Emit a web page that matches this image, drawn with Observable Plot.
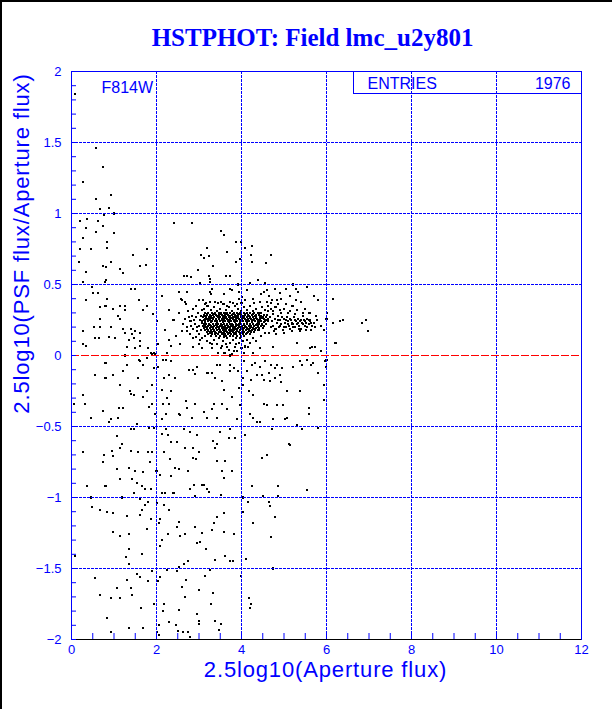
<!DOCTYPE html>
<html><head><meta charset="utf-8">
<script src="https://cdn.jsdelivr.net/npm/d3@7"></script>
<script src="https://cdn.jsdelivr.net/npm/@observablehq/plot@0.6"></script>
<style>
html,body{margin:0;padding:0;background:#fff;}
#chart{position:relative;width:612px;height:709px;overflow:hidden;background:#fff;}
.edge{position:absolute;background:#000;}
</style></head><body>
<div id="chart"></div>
<script>
// ---- text ----
const titleText = "HSTPHOT: Field lmc_u2y801";
const xLabel = "2.5log10(Aperture flux)";
const yLabel = "2.5log10(PSF flux/Aperture flux)";
const filterLabel = "F814W";
const entriesLabel = "ENTRIES";
const entriesCount = 1976;

// ---- ticks ----
const xMajorTicks = [0, 2, 4, 6, 8, 10, 12];
const xMinorTicks = d3.range(0, 25).map(i => i * 0.5);
const yMajorTicks = [-2, -1.5, -1, -0.5, 0, 0.5, 1, 1.5, 2];
const yGridLines = [-1.5, -1, -0.5, 0.5, 1, 1.5];
const yMinorTicks = d3.range(-20, 21).map(i => i / 10);
const referenceLine = [0];

// ---- data (x = 2.5log10(Aperture flux), y = 2.5log10(PSF/Aperture)) ----
const upperLeftPts = [[0.09,1.84],[0.58,1.46],[0.74,1.33],[0.27,1.22],[0.58,1.10],[0.93,1.13],[0.68,1.03],[0.88,1.04],[0.99,1.00],[0.76,0.99],[0.19,0.95],[0.37,0.96],[0.35,0.90],[0.63,0.95],[0.74,0.91],[0.27,0.83],[0.57,0.87],[0.99,0.86],[0.84,0.80],[0.84,0.76],[0.19,0.75],[0.45,0.75],[1.45,0.71],[1.78,0.75],[0.18,0.66],[0.74,0.63],[0.94,0.66],[0.81,0.62],[0.35,0.59],[1.15,0.61],[1.21,0.58],[1.62,0.63],[1.75,0.64],[0.82,0.53],[0.79,0.52],[0.27,0.52],[0.49,0.48],[0.51,0.44],[0.63,0.44],[0.35,0.39],[0.84,0.40],[0.68,0.34],[0.80,0.35],[0.98,0.33],[1.15,0.35],[1.25,0.35],[1.25,0.32],[1.40,0.47],[1.50,0.47],[1.58,0.39],[1.68,0.32],[1.77,0.35],[1.91,0.29],[0.68,0.26],[1.09,0.28],[1.13,0.26],[0.94,0.20],[0.52,0.20],[0.68,0.20],[0.27,0.17],[0.56,0.12],[0.64,0.12],[0.88,0.13],[1.02,0.12],[1.21,0.19],[1.25,0.16],[1.39,0.19],[1.35,0.11],[1.46,0.12],[1.50,0.17],[1.42,0.15],[1.61,0.16],[1.62,0.10],[1.31,0.06],[1.50,0.05],[1.79,0.05],[1.88,0.02],[1.95,0.02],[0.27,0.08],[0.35,0.07],[2.01,0.24],[2.03,0.08],[2.29,0.11],[1.27,0.00],[2.20,0.18],[2.35,0.07],[2.40,0.25],[2.45,0.14],[2.52,0.30],[2.55,0.08],[2.60,0.17],[2.30,0.32],[2.12,0.42],[2.25,0.02]];

const upperScatterPts = [[2.42,0.93],[2.83,0.93],[3.52,0.88],[3.58,0.85],[3.98,0.80],[3.87,0.80],[4.09,0.76],[4.24,0.77],[3.19,0.76],[3.05,0.71],[3.23,0.70],[3.12,0.69],[3.66,0.73],[3.97,0.68],[3.87,0.66],[4.23,0.71],[4.24,0.66],[4.58,0.65],[4.70,0.71],[3.33,0.63],[2.97,0.60],[2.65,0.56],[2.72,0.56],[2.81,0.55],[3.24,0.56],[3.25,0.54],[3.64,0.56],[3.73,0.56],[4.19,0.51],[4.38,0.53],[4.56,0.51],[3.03,0.51],[3.26,0.52],[3.91,0.50],[5.22,0.50],[3.30,0.47],[3.26,0.45],[2.52,0.45],[2.72,0.45],[3.29,0.43],[3.72,0.47],[3.77,0.46],[3.95,0.45],[4.14,0.46],[4.52,0.45],[4.59,0.46],[4.79,0.47],[5.05,0.47],[5.28,0.47],[5.55,0.48],[3.93,0.40],[4.09,0.39],[4.01,0.41],[4.28,0.40],[4.44,0.38],[4.72,0.39],[4.83,0.39],[4.93,0.40],[5.14,0.42],[5.32,0.45],[5.28,0.39],[5.71,0.42],[5.81,0.39],[2.58,0.40],[2.60,0.39],[2.68,0.38],[2.70,0.36],[2.87,0.33],[3.01,0.39],[3.09,0.39],[3.13,0.36],[3.26,0.38],[3.38,0.38],[3.52,0.38],[3.58,0.36],[3.66,0.35],[3.81,0.37],[3.89,0.36],[3.58,0.43],[4.65,0.42],[4.90,0.44],[5.05,0.36],[5.20,0.35],[5.40,0.38],[5.50,0.33],[5.60,0.30],[5.75,0.28],[4.45,0.43],[4.70,0.37]];

// dense core of the stellar sequence: [y, x values]
const clusterCoreRows = [
  [0.300, [3.15,3.22,3.31,3.38,3.47,3.52,3.60,3.66,3.74,3.83,3.90,3.97,4.05,4.12,4.21,4.30,4.38,4.47]],
  [0.2925,[3.19,3.35,3.49,3.63,3.79,3.94,4.09,4.26,4.42]],
  [0.285, [3.12,3.18,3.25,3.33,3.41,3.46,3.55,3.62,3.68,3.77,3.85,3.92,3.99,4.08,4.15,4.24,4.33,4.41,4.52,4.60]],
  [0.2775,[3.14,3.28,3.43,3.58,3.73,3.88,4.03,4.18,4.31,4.47]],
  [0.270, [3.10,3.16,3.23,3.29,3.36,3.44,3.50,3.57,3.63,3.71,3.79,3.84,3.91,4.00,4.06,4.13,4.19,4.27,4.35,4.43,4.50,4.58]],
  [0.2625,[3.17,3.31,3.46,3.61,3.76,3.90,4.05,4.20,4.33,4.49]],
  [0.255, [3.13,3.20,3.27,3.34,3.40,3.48,3.53,3.59,3.66,3.73,3.80,3.87,3.94,4.02,4.09,4.16,4.22,4.29,4.37,4.44,4.53,4.62]],
  [0.2475,[3.11,3.25,3.41,3.54,3.70,3.84,3.99,4.14,4.28,4.42,4.58]],
  [0.240, [3.08,3.14,3.21,3.30,3.37,3.43,3.49,3.56,3.62,3.69,3.75,3.82,3.89,3.96,4.03,4.10,4.18,4.25,4.31,4.39,4.46,4.55,4.63]],
  [0.2325,[3.13,3.28,3.42,3.57,3.70,3.84,3.97,4.12,4.25,4.40,4.53]],
  [0.225, [3.11,3.17,3.24,3.32,3.39,3.45,3.51,3.58,3.65,3.72,3.78,3.86,3.93,3.99,4.07,4.14,4.20,4.28,4.36,4.42,4.49,4.57]],
  [0.2175,[3.12,3.26,3.39,3.53,3.66,3.80,3.91,4.05,4.19,4.34,4.48]],
  [0.210, [3.09,3.15,3.22,3.28,3.35,3.42,3.50,3.55,3.61,3.68,3.76,3.81,3.88,3.95,4.01,4.08,4.17,4.23,4.30,4.38,4.45,4.54]],
  [0.2025,[3.16,3.31,3.45,3.57,3.71,3.83,3.97,4.10,4.23,4.38]],
  [0.195, [3.12,3.19,3.26,3.33,3.40,3.47,3.54,3.60,3.67,3.74,3.79,3.85,3.92,4.00,4.05,4.12,4.19,4.26,4.34,4.41,4.50]],
  [0.1875,[3.18,3.32,3.47,3.60,3.73,3.87,4.01,4.15,4.29]],
  [0.180, [3.14,3.21,3.29,3.36,3.43,3.50,3.57,3.63,3.70,3.77,3.83,3.90,3.97,4.04,4.11,4.18,4.24,4.32,4.40]],
  [0.1725,[3.21,3.35,3.49,3.62,3.76,3.90,4.04,4.19]],
  [0.165, [3.18,3.25,3.31,3.38,3.46,3.52,3.59,3.66,3.73,3.80,3.86,3.94,4.01,4.07,4.15,4.22,4.29]],
  [0.1575,[3.26,3.41,3.56,3.71,3.85,3.99,4.13]],
  [0.150, [3.22,3.30,3.37,3.44,3.53,3.60,3.68,3.75,3.82,3.88,3.96,4.03,4.10,4.20]],
  [0.135, [3.28,3.40,3.49,3.58,3.64,3.72,3.80,3.90,3.98,4.06]]
];

const clusterBandPts = [[4.66,0.27],[4.71,0.24],[4.74,0.21],[4.78,0.26],[4.80,0.19],[4.83,0.23],[4.86,0.28],[4.88,0.20],[4.91,0.25],[4.94,0.22],[4.97,0.18],[4.99,0.26],[5.02,0.23],[5.05,0.20],[5.07,0.27],[5.10,0.24],[5.12,0.21],[5.15,0.19],[5.17,0.25],[5.20,0.22],[5.23,0.27],[5.25,0.20],[5.28,0.24],[5.30,0.22],[5.33,0.26],[5.36,0.21],[5.38,0.24],[5.41,0.19],[5.43,0.23],[5.46,0.25],[5.49,0.21],[5.52,0.23],[5.55,0.26],[5.58,0.22],[5.62,0.24],[5.66,0.21],[5.70,0.23],[4.69,0.20],[4.73,0.29],[4.77,0.17],[4.85,0.25],[4.90,0.21],[4.95,0.27],[5.00,0.20],[5.04,0.25],[5.09,0.22],[5.14,0.26],[5.19,0.23],[5.22,0.20],[5.27,0.25],[5.32,0.23],[5.35,0.19],[5.40,0.25],[5.45,0.22],[5.50,0.24],[5.54,0.20],[5.60,0.25],[5.64,0.23],[4.62,0.31],[4.75,0.31],[4.93,0.30],[5.10,0.30],[5.27,0.29],[5.44,0.28],[4.64,0.16],[4.82,0.15],[5.00,0.16],[5.18,0.17],[5.37,0.17],[5.52,0.18],[5.73,0.20],[5.78,0.25]];

const clusterLeftPts = [[2.68,0.26],[2.72,0.20],[2.75,0.31],[2.78,0.15],[2.80,0.24],[2.83,0.28],[2.85,0.19],[2.87,0.33],[2.90,0.22],[2.92,0.13],[2.94,0.27],[2.96,0.17],[2.98,0.30],[3.00,0.21],[3.02,0.25],[3.03,0.11],[3.05,0.18],[3.06,0.32],[3.07,0.23],[3.04,0.28],[2.99,0.15],[2.88,0.25],[2.82,0.21],[2.76,0.27],[2.71,0.17],[2.63,0.22],[2.93,0.35],[3.01,0.08],[2.95,0.20],[2.86,0.12]];

const clusterTailPts = [[3.35,0.11],[3.42,0.08],[3.48,0.12],[3.52,0.05],[3.56,0.10],[3.60,0.02],[3.63,0.08],[3.67,0.12],[3.70,0.04],[3.74,0.09],[3.78,0.01],[3.80,0.11],[3.84,0.06],[3.87,0.12],[3.90,0.03],[3.93,0.09],[3.96,0.12],[4.00,0.05],[4.03,0.10],[4.08,0.07],[4.12,0.11],[3.45,0.02],[3.58,0.13],[3.72,0.00],[3.88,0.08],[4.06,0.02],[3.55,0.07],[3.82,0.03],[3.66,0.06],[4.15,0.06],[3.25,0.09],[3.30,0.05],[3.18,0.10],[4.20,0.09],[4.27,0.12],[4.35,0.10]];

const clusterFringePts = [[3.12,0.33],[3.20,0.35],[3.28,0.32],[3.35,0.34],[3.42,0.31],[3.50,0.33],[3.57,0.36],[3.63,0.32],[3.70,0.34],[3.77,0.31],[3.84,0.35],[3.92,0.33],[3.99,0.31],[4.05,0.34],[4.13,0.32],[4.20,0.35],[4.27,0.31],[4.34,0.33],[4.41,0.30],[4.48,0.34],[4.55,0.32],[4.63,0.35],[4.70,0.33],[4.80,0.34],[4.90,0.32],[3.16,0.37],[3.45,0.37],[3.73,0.38],[4.00,0.37],[4.30,0.37],[4.60,0.38],[4.85,0.36],[5.00,0.33],[5.15,0.31],[5.30,0.32],[5.45,0.30],[3.08,0.12],[3.15,0.14],[4.45,0.14],[4.55,0.16]];

const rightPts = [[6.00,0.26],[6.16,0.23],[6.32,0.24],[6.38,0.25],[6.22,0.09],[5.87,0.21],[5.93,0.18],[5.64,0.18],[5.73,0.06],[5.86,0.03],[5.61,0.05],[6.15,0.40],[6.83,0.23],[6.93,0.25],[6.97,0.17],[6.01,0.30]];

const nearZeroPts = [[1.31,0.06],[1.62,0.07],[1.90,0.01],[1.96,0.01],[2.87,0.06],[3.07,0.05],[3.30,0.08],[3.62,0.02],[4.09,0.06],[4.28,0.02],[4.44,0.05],[4.75,0.06],[5.30,0.09],[5.65,0.06],[5.73,0.06],[6.20,0.09]];

const lowerPts = [[0.80,-0.05],[0.56,-0.14],[0.98,-0.14],[0.80,-0.16],[1.21,-0.11],[1.31,-0.07],[1.61,-0.04],[1.68,-0.07],[1.56,-0.16],[1.14,-0.21],[1.37,-0.25],[1.48,-0.28],[0.27,-0.28],[0.31,-0.34],[0.74,-0.39],[1.11,-0.37],[1.21,-0.37],[0.92,-0.45],[0.88,-0.47],[1.09,-0.44],[0.45,-0.44],[1.54,-0.48],[1.78,-0.25],[1.90,-0.21],[1.95,-0.09],[1.90,-0.34],[1.96,-0.41],[1.82,-0.36],[1.68,-0.29],[1.39,-0.27],[0.05,-0.34],[1.58,-0.03],[1.78,-0.02],[2.15,-0.03],
[2.04,-0.08],[2.23,-0.03],[2.33,-0.04],[2.29,-0.14],[2.17,-0.16],[2.44,-0.16],[2.13,-0.24],[2.33,-0.25],[2.25,-0.30],[2.15,-0.34],[2.29,-0.34],[2.52,-0.41],[2.56,-0.42],[2.23,-0.41],[2.13,-0.45],[2.76,-0.10],[2.86,-0.10],[2.91,-0.13],[2.95,-0.08],[2.72,-0.37],[2.83,-0.44],[2.91,-0.34],[2.70,-0.32],[3.11,-0.40],[3.19,-0.44],[3.20,-0.12],[3.30,-0.12],[3.38,-0.16],[3.42,-0.07],[3.50,-0.07],[3.54,-0.18],[3.58,-0.24],[3.36,-0.34],[3.30,-0.38],[3.42,-0.44],[3.54,-0.34],[3.66,-0.38],[3.72,-0.07],[3.74,-0.11],[3.77,-0.29],[3.83,-0.09],[3.89,-0.45],[3.92,-0.11],[3.95,-0.23],[3.97,-0.35],
[4.05,-0.04],[4.03,-0.16],[4.03,-0.21],[4.13,-0.11],[4.17,-0.25],[4.24,-0.07],[4.22,-0.17],[4.28,-0.28],[4.32,-0.05],[4.36,-0.14],[4.44,-0.08],[4.48,-0.14],[4.52,-0.17],[4.53,-0.34],[4.56,-0.04],[4.64,-0.12],[4.66,-0.18],[4.70,-0.07],[4.79,-0.09],[4.79,-0.16],[4.83,-0.07],[4.83,-0.35],[4.91,-0.14],[4.93,-0.19],[4.95,-0.09],[4.97,-0.35],[5.07,-0.25],[5.03,-0.45],[4.36,-0.47],[4.44,-0.47],[4.28,-0.44],[4.20,-0.41],[4.60,-0.35],[5.22,-0.08],[5.38,-0.04],[5.38,-0.25],[5.42,-0.07],[5.54,-0.03],[5.58,-0.37],[5.58,-0.41],[5.63,-0.07],[5.69,-0.05],[5.81,-0.12],[5.93,-0.21],[5.93,-0.31],[5.97,-0.04],[6.00,-0.03],[5.07,-0.44],[5.30,-0.49],[4.75,-0.45],[5.99,-0.08],
[0.27,-0.68],[0.76,-0.70],[0.96,-0.67],[0.98,-0.71],[0.74,-0.75],[1.07,-0.57],[1.19,-0.62],[1.15,-0.65],[1.39,-0.52],[1.48,-0.52],[1.40,-0.67],[1.56,-0.68],[1.80,-0.68],[1.07,-0.80],[1.35,-0.79],[1.50,-0.81],[1.68,-0.82],[1.84,-0.75],[1.90,-0.68],[1.15,-0.87],[1.43,-0.87],[1.53,-0.90],[1.66,-0.92],[1.74,-0.94],[1.86,-0.94],[0.37,-0.92],[0.80,-0.92],[0.45,-1.00],[1.19,-1.00],[1.46,-0.97],[1.62,-1.01],[1.82,-0.51],[1.93,-0.51],[2.00,-0.81],
[2.23,-0.52],[2.13,-0.55],[2.26,-0.56],[2.33,-0.61],[2.48,-0.61],[2.17,-0.68],[2.31,-0.73],[2.44,-0.79],[2.52,-0.80],[2.33,-0.85],[2.09,-0.84],[2.13,-0.97],[2.21,-0.97],[2.40,-0.97],[2.65,-0.52],[2.79,-0.54],[2.66,-0.65],[2.87,-0.65],[2.86,-0.72],[2.94,-0.73],[2.95,-0.56],[3.01,-0.68],[2.74,-0.81],[2.78,-0.94],[2.91,-0.99],[3.07,-0.91],[3.12,-0.91],[3.19,-0.94],[3.37,-0.65],[3.42,-0.62],[3.42,-0.74],[3.62,-0.74],[3.54,-0.81],[3.58,-0.86],[3.50,-0.54],[3.33,-0.60],[3.70,-0.58],[3.74,-0.52],[3.85,-0.58],[3.77,-0.81],[3.23,-0.96],[3.52,-0.98],[2.89,-0.91],
[4.09,-0.56],[4.48,-0.72],[4.60,-0.70],[4.24,-0.92],[4.87,-0.92],[5.54,-0.95],[5.11,-0.62],[5.15,-0.63],[4.72,-0.52],[5.42,-0.52],[5.81,-0.51],[4.50,-0.99],[4.87,-0.99],[4.03,-1.00],
[0.49,-1.07],[0.68,-1.09],[0.84,-1.10],[0.98,-1.11],[1.31,-1.13],[1.61,-1.12],[1.66,-1.09],[1.74,-1.05],[1.80,-1.03],[1.87,-1.15],[1.78,-1.22],[0.98,-1.24],[1.15,-1.27],[1.35,-1.26],[1.35,-1.36],[1.28,-1.42],[0.09,-1.41],[1.66,-1.40],[1.35,-1.47],
[2.01,-1.04],[2.17,-1.05],[2.29,-1.09],[2.08,-1.15],[2.05,-1.18],[2.48,-1.21],[2.54,-1.17],[2.66,-1.26],[2.56,-1.27],[2.27,-1.26],[2.13,-1.30],[2.08,-1.34],[2.90,-1.21],[3.07,-1.25],[3.03,-1.31],[2.95,-1.32],[3.16,-1.36],[3.30,-1.23],[3.36,-1.18],[3.42,-1.14],[3.58,-1.11],[3.59,-1.24],[3.83,-1.26],[3.62,-1.41],[3.38,-1.44],[3.74,-1.45],[3.81,-1.45],[2.74,-1.45],[2.64,-1.47],[2.52,-1.49],[3.25,-1.51],
[4.03,-1.10],[4.15,-1.03],[4.27,-1.18],[4.64,-1.03],[4.66,-1.06],[4.79,-1.14],[4.69,-1.28],[4.11,-1.43],[4.75,-1.50],
[0.56,-1.57],[1.31,-1.58],[1.39,-1.64],[1.07,-1.64],[1.53,-1.54],[1.62,-1.56],[1.80,-1.59],[1.90,-1.52],[0.68,-1.69],[0.93,-1.71],[1.15,-1.71],[1.43,-1.69],
[2.03,-1.59],[2.09,-1.56],[2.25,-1.51],[2.48,-1.52],[2.60,-1.63],[2.70,-1.58],[2.66,-1.70],[2.17,-1.75],[2.99,-1.65],[3.33,-1.67],[3.15,-1.55],[3.99,-1.55],[4.18,-1.71],[4.22,-1.75],
[0.84,-1.85],[0.93,-1.95],[1.35,-1.92],[1.64,-1.78],[1.68,-1.92],[1.95,-1.75],[2.02,-1.95],[2.05,-1.97],[2.07,-1.90],[2.18,-1.75],[2.15,-1.80],[2.30,-1.88],[2.46,-1.90],[2.51,-1.94],[2.52,-1.79],[2.62,-1.95],[2.75,-1.95],[2.78,-1.98],[2.96,-1.82],[3.00,-1.87],[3.01,-1.89],[3.29,-1.75],[3.38,-1.87],[3.52,-1.89],[3.47,-1.93],[4.20,-1.78]];

// ---- build table ----
const toObj = ([x, y]) => ({x, y});
const points = [
  ...upperLeftPts, ...upperScatterPts, ...clusterBandPts, ...clusterLeftPts,
  ...clusterTailPts, ...clusterFringePts, ...rightPts, ...nearZeroPts, ...lowerPts,
  ...clusterCoreRows.flatMap(([y, xs]) => xs.map(x => [x, y]))
].map(toObj);

// ---- layout / style ----
const blue = "#0000ff";
const statsBox = {x1: 6.65, x2: 12, y1: 1.845, y2: 2};
const tickFmt = d3.format("~g");

const chart = Plot.plot({
  width: 612, height: 709,
  marginLeft: 71, marginRight: 31, marginTop: 71, marginBottom: 70,
  x: {domain: [0, 12], label: null},
  y: {domain: [-2, 2], label: null},
  style: {background: "white", fontFamily: "'Liberation Sans', Arial, sans-serif", overflow: "visible"},
  marks: [
    Plot.dot(points, {x: "x", y: "y", symbol: "square", r: 1.13, fill: "black", stroke: null, shapeRendering: "crispEdges"}),
    Plot.rect([statsBox], {x1: "x1", x2: "x2", y1: "y1", y2: "y2", fill: "white", stroke: blue, shapeRendering: "crispEdges"}),
    Plot.text([filterLabel], {frameAnchor: "top-left", dx: 30, dy: 16.5, textAnchor: "start", lineAnchor: "middle", fontSize: 16, fill: blue}),
    Plot.text([entriesLabel], {frameAnchor: "top-left", dx: 296, dy: 12, textAnchor: "start", lineAnchor: "middle", fontSize: 16, fill: blue}),
    Plot.text([String(entriesCount)], {frameAnchor: "top-right", dx: -11, dy: 12, textAnchor: "end", lineAnchor: "middle", fontSize: 16, fill: blue}),
    Plot.gridX(xMajorTicks, {stroke: blue, strokeOpacity: 1, strokeDasharray: "3,1"}),
    Plot.gridY(yGridLines, {stroke: blue, strokeOpacity: 1, strokeDasharray: "3,1"}),
    Plot.ruleY(referenceLine, {stroke: "#ff0000", strokeDasharray: "8,2"}),
    Plot.frame({stroke: blue, shapeRendering: "crispEdges"}),
    Plot.ruleY([-2], {stroke: "black"}),
    Plot.axisX(xMinorTicks, {tickSize: -6, stroke: blue, fill: "none", label: null}),
    Plot.axisX(xMajorTicks, {tickSize: 0, tickPadding: 5, fill: blue, fontSize: 13, label: null, tickFormat: tickFmt}),
    Plot.axisY(yMinorTicks, {tickSize: -5, stroke: blue, fill: "none", label: null}),
    Plot.axisY(yMajorTicks, {tickSize: 0, tickPadding: 10, fill: blue, fontSize: 13, label: null, tickFormat: tickFmt}),
    Plot.text([titleText], {frameAnchor: "top", dx: -14, dy: -34, lineAnchor: "middle", fontSize: 25, fontWeight: "bold", fontFamily: "'Liberation Serif', 'Times New Roman', serif", fill: blue}),
    Plot.text([xLabel], {frameAnchor: "bottom", dx: -1, dy: 30, textAnchor: "middle", lineAnchor: "middle", fontSize: 22, fill: blue}),
    Plot.text([yLabel], {frameAnchor: "left", rotate: -90, dx: -50, dy: -112, textAnchor: "middle", lineAnchor: "middle", fontSize: 22, fill: blue})
  ]
});

const host = document.getElementById("chart");
host.appendChild(chart);
d3.select(chart).selectAll("text")
  .filter(function () { return this.textContent === xLabel || this.textContent === yLabel; })
  .style("letter-spacing", "0.85px");
for (const [l, t, w, h] of [[0, 0, 2, 709], [0, 0, 612, 2]]) {
  const d = document.createElement("div");
  d.className = "edge";
  Object.assign(d.style, {left: l + "px", top: t + "px", width: w + "px", height: h + "px"});
  host.appendChild(d);
}
</script>
</body></html>
